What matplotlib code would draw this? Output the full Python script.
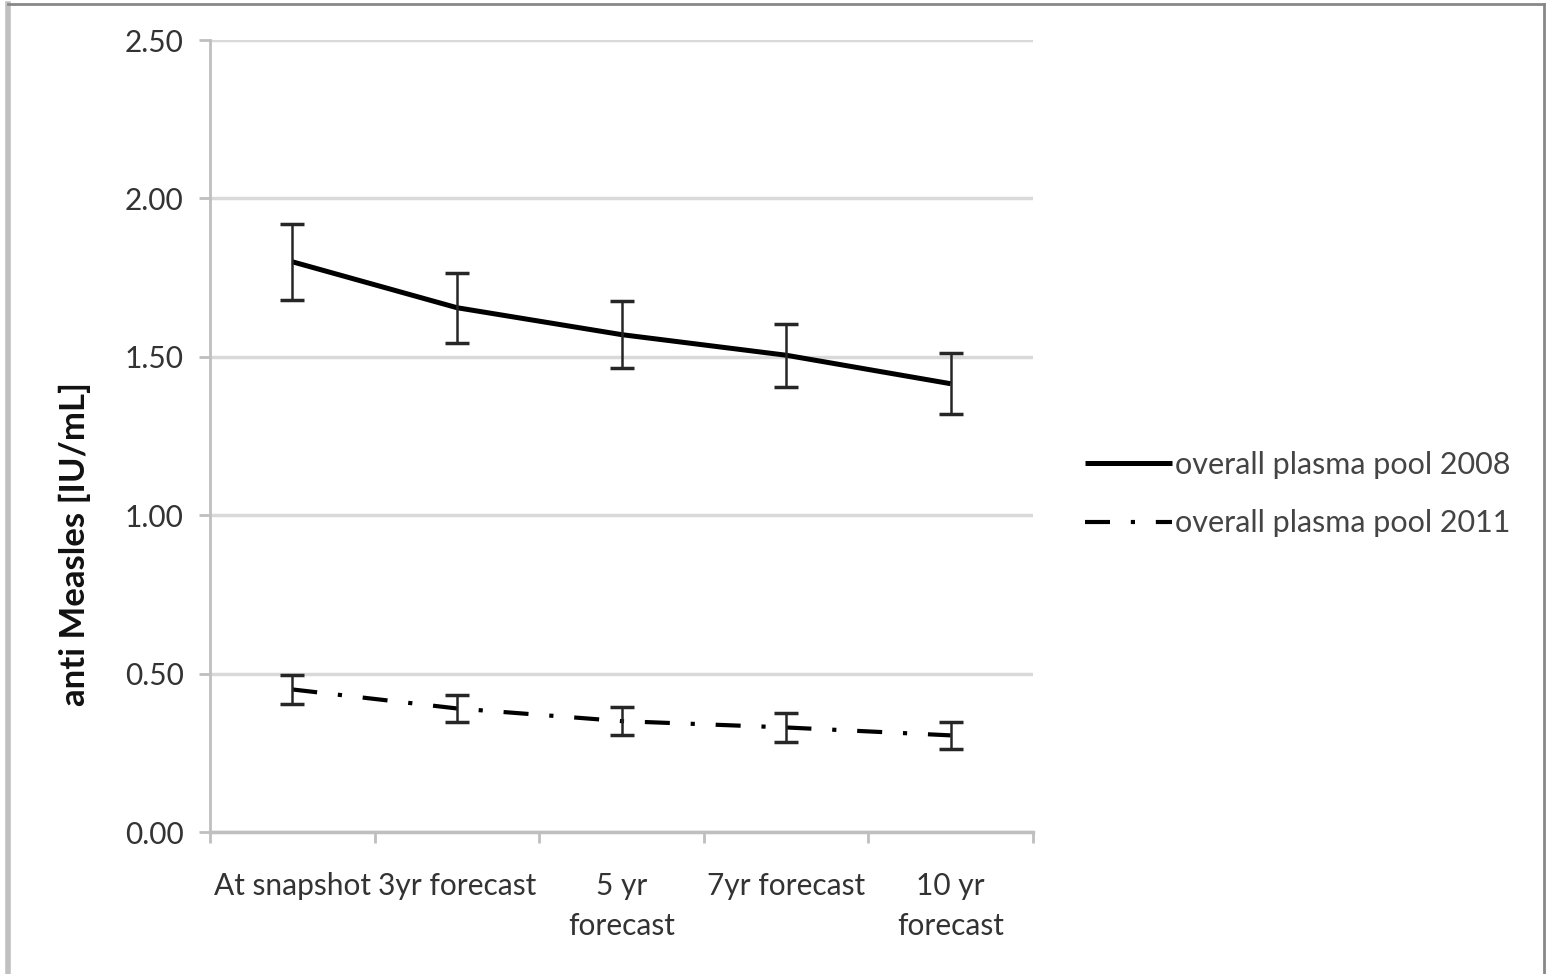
import numpy as np
import matplotlib.pyplot as plt
from matplotlib.lines import Line2D

plt.rcParams['font.family'] = ['Lato', 'DejaVu Sans']

categories = ['At snapshot', '3yr forecast', '5 yr\nforecast', '7yr forecast', '10 yr\nforecast']
pool_2008 = [1.80, 1.655, 1.57, 1.505, 1.415]
err_2008 = [0.12, 0.11, 0.105, 0.10, 0.097]
pool_2011 = [0.45, 0.39, 0.35, 0.33, 0.305]
err_2011 = [0.045, 0.043, 0.045, 0.045, 0.043]
yticks = [0.0, 0.5, 1.0, 1.5, 2.0, 2.5]

fig = plt.figure(figsize=(15.46, 9.74), dpi=100)
ax = fig.add_axes([210/1546, 1-832/974, (1033-210)/1546, (832-40)/974])

x = np.arange(len(categories))

# 2008 solid
l1, = ax.plot(x, pool_2008, color='black', linewidth=3.6, solid_capstyle='butt', zorder=3)
ax.errorbar(x, pool_2008, yerr=err_2008, fmt='none', ecolor='#262626',
            elinewidth=1.8, capsize=8.5, capthick=2.5, zorder=4)

# 2011 dash-dot
l2, = ax.plot(x, pool_2011, color='black', linewidth=3.0, dashes=(6, 5, 1, 5), zorder=3)
ax.errorbar(x, pool_2011, yerr=err_2011, fmt='none', ecolor='#262626',
            elinewidth=1.8, capsize=8.5, capthick=2.5, zorder=4)

ax.set_xlim(-0.5, len(categories) - 0.5)
ax.set_ylim(0, 2.5)
ax.set_yticks(yticks)
ax.set_yticklabels(['%.2f' % v for v in yticks], fontsize=21.5, color='#333333')
ax.set_xticks(x)
ax.set_xticklabels(categories, fontsize=21.5, color='#333333', linespacing=1.5, va='top')
ax.set_xticks(np.arange(-0.5, len(categories)), minor=True)
ax.tick_params(axis='x', which='major', length=0, pad=29)
ax.tick_params(axis='x', which='minor', length=8, color='#bfbfbf', width=2)
ax.tick_params(axis='y', length=8, color='#bfbfbf', width=2, pad=11)

ax.grid(axis='y', color='#d9d9d9', linewidth=2.5, zorder=0)
ax.set_axisbelow(True)
for s in ['top', 'right']:
    ax.spines[s].set_visible(False)
ax.spines['left'].set_color('#bfbfbf')
ax.spines['left'].set_linewidth(2)
ax.spines['bottom'].set_color('#bfbfbf')
ax.spines['bottom'].set_linewidth(2.5)

fig.text(75/1546, 1-544/974, 'anti Measles [IU/mL]', rotation=90, fontsize=25,
         fontweight='bold', ha='center', va='center', color='#111111')

leg = fig.legend([l1, l2], ['overall plasma pool 2008', 'overall plasma pool 2011'],
                 loc='center left', bbox_to_anchor=(1057/1546, 1-494/974),
                 frameon=False, fontsize=22, handlelength=2.85, handletextpad=0.1,
                 labelspacing=1.0, labelcolor='#444444')

# outer border
fig.add_artist(Line2D([8/1546, 8/1546], [0, 1-4/974], color='#c0c0c0', linewidth=4))
fig.add_artist(Line2D([8/1546, 1544/1546], [1-4/974, 1-4/974], color='#888888', linewidth=2))
fig.add_artist(Line2D([1544/1546, 1544/1546], [0, 1-4/974], color='#888888', linewidth=2))

fig.savefig('out.png', dpi=100)
